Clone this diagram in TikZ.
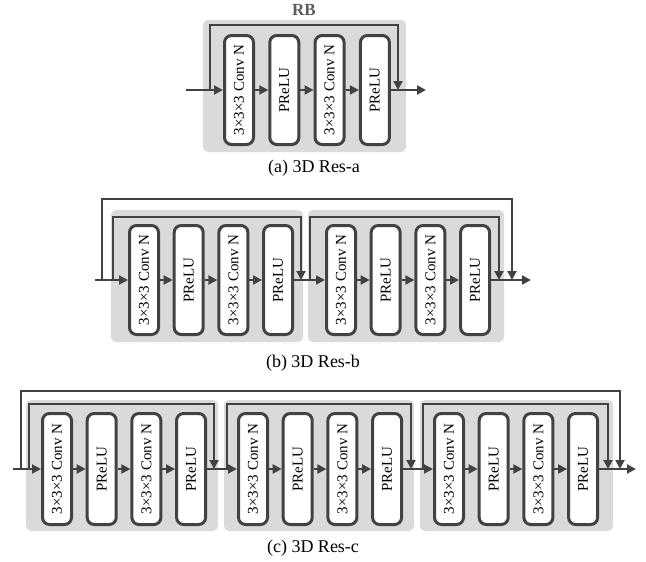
\documentclass[tikz,border=0pt]{standalone}
\usepackage{fontspec}
\setmainfont{Liberation Serif}
\usepackage{graphicx}
\usetikzlibrary{arrows.meta}

\definecolor{panelgray}{HTML}{DADADA}
\definecolor{linegray}{HTML}{424242}
\definecolor{labelgray}{HTML}{5C5C5C}

\tikzset{
  panel/.style={fill=panelgray, draw=none, rounded corners=5pt},
  unit/.style={draw=linegray, line width=3pt, fill=white, rounded corners=7pt,
               minimum width=29pt, inner sep=0pt,
               font=\fontsize{15}{17}\selectfont},
  arr/.style={draw=linegray, line width=2pt,
              -{Triangle[length=9pt,width=9pt]}},
  caption/.style={font=\fontsize{18}{20}\selectfont, inner sep=0pt},
}

% One residual unit: four boxes chained left to right.
% #1 prefix, #2 left edge of first box, #3 box pitch, #4 box top, #5 box bottom
\newcommand{\rbunit}[5]{%
  \foreach \k/\txt in {1/{3×3×3 Conv N},2/{PReLU},3/{3×3×3 Conv N},4/{PReLU}}{
    \node[unit, minimum height={#5-#4-3}] (#1\k)
      at ({#2+16+(\k-1)*#3},{(#4+#5)/2}) {\rotatebox{90}{\txt}};
  }
  \foreach \k [evaluate=\k as \n using int(\k+1)] in {1,2,3}{
    \draw[arr] (#1\k.east) -- (#1\n.west);
  }
}

\begin{document}
\begin{tikzpicture}[x=1pt, y=-1pt]
\useasboundingbox (0,0) rectangle (646,562);

% ---------------- (a) single residual block ----------------
\fill[panel] (203,20) rectangle (406,152);
\node[font=\bfseries\fontsize{17}{19}\selectfont, text=labelgray, inner sep=0pt] (rb) at (304,10) {RB};
\rbunit{a}{223}{45.3}{34}{146}
\coordinate (ain)  at (186,90);
\coordinate (ajn)  at (210,90);
\coordinate (aup)  at (210,25);
\coordinate (atr)  at (398,25);
\coordinate (aend) at (398,90);
\coordinate (aout) at (426,90);
\draw[arr] (ain) -- (a1.west);
\draw[arr] (ajn) -- (aup) -- (atr) -- (aend);
\draw[arr] (a4.east) -- (aout);
\node[caption] (capa) at (314,168) {(a) 3D Res-a};

% ---------------- (b) two residual blocks ----------------
\fill[panel] (111,210) rectangle (303,342);
\fill[panel] (308,210) rectangle (504,342);
\rbunit{b}{128}{44.7}{224}{336}
\rbunit{c}{325}{44.7}{224}{336}
\coordinate (bin)  at (95,280);
\coordinate (bjo)  at (102,280);
\coordinate (buo)  at (102,199);
\coordinate (bto)  at (512,199);
\coordinate (beo)  at (512,280);
\coordinate (bji)  at (113,280);
\coordinate (bui)  at (113,217);
\coordinate (bti)  at (301,217);
\coordinate (bei)  at (301,280);
\coordinate (bjj)  at (310,280);
\coordinate (buj)  at (310,217);
\coordinate (btj)  at (499,217);
\coordinate (bej)  at (499,280);
\coordinate (bout) at (531,280);
\draw[arr] (bin) -- (b1.west);
\draw[arr] (b4.east) -- (c1.west);
\draw[arr] (c4.east) -- (bout);
\draw[arr] (bjo) -- (buo) -- (bto) -- (beo);
\draw[arr] (bji) -- (bui) -- (bti) -- (bei);
\draw[arr] (bjj) -- (buj) -- (btj) -- (bej);
\node[caption] (capb) at (313,363) {(b) 3D Res-b};

% ---------------- (c) three residual blocks ----------------
\fill[panel] (26,400) rectangle (218,531);
\fill[panel] (224,400) rectangle (414,531);
\fill[panel] (420,400) rectangle (613,531);
\rbunit{d}{41}{44.7}{412}{526}
\rbunit{e}{237}{44.7}{412}{526}
\rbunit{f}{433}{44.7}{412}{526}
\coordinate (cin)  at (13,469);
\coordinate (cjo)  at (21,469);
\coordinate (cuo)  at (21,391);
\coordinate (cto)  at (620,391);
\coordinate (ceo)  at (620,469);
\coordinate (cj1)  at (29,469);
\coordinate (cu1)  at (29,404);
\coordinate (ct1)  at (214,404);
\coordinate (ce1)  at (214,469);
\coordinate (cj2)  at (227,469);
\coordinate (cu2)  at (227,404);
\coordinate (ct2)  at (411,404);
\coordinate (ce2)  at (411,469);
\coordinate (cj3)  at (423,469);
\coordinate (cu3)  at (423,404);
\coordinate (ct3)  at (608,404);
\coordinate (ce3)  at (608,469);
\coordinate (cout) at (636,469);
\draw[arr] (cin) -- (d1.west);
\draw[arr] (d4.east) -- (e1.west);
\draw[arr] (e4.east) -- (f1.west);
\draw[arr] (f4.east) -- (cout);
\draw[arr] (cjo) -- (cuo) -- (cto) -- (ceo);
\draw[arr] (cj1) -- (cu1) -- (ct1) -- (ce1);
\draw[arr] (cj2) -- (cu2) -- (ct2) -- (ce2);
\draw[arr] (cj3) -- (cu3) -- (ct3) -- (ce3);
\node[caption] (capc) at (313,548) {(c) 3D Res-c};
\end{tikzpicture}
\end{document}
